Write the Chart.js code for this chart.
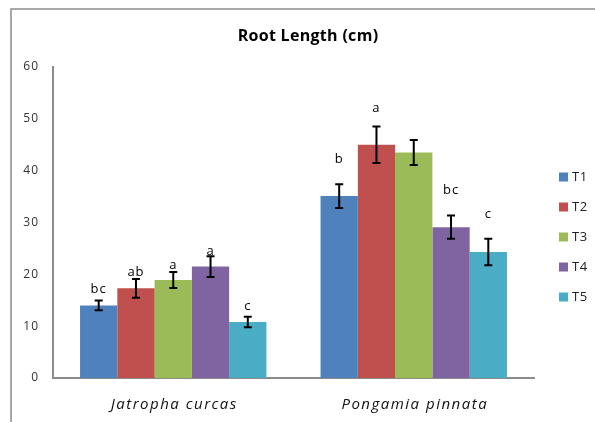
<!DOCTYPE html>
<html>
<head>
<meta charset="utf-8">
<script src="https://cdn.jsdelivr.net/npm/chart.js@4.4.0/dist/chart.umd.min.js"></script>
<style>
  html, body { margin: 0; padding: 0; background: #fff; }
  #wrap { position: relative; width: 595px; height: 422px; }
</style>
</head>
<body>
<div id="wrap"><canvas id="rootChart" width="595" height="422"></canvas></div>
<script>
// categories and series
const categories = ['Jatropha curcas', 'Pongamia pinnata'];
const seriesNames = ['T1', 'T2', 'T3', 'T4', 'T5'];
const seriesColors = ['#4F81BD', '#C0504D', '#9BBB59', '#8064A2', '#4BACC6'];

// mean root length (cm)
const t1 = [14.0, 35.1];
const t2 = [17.3, 45.0];
const t3 = [18.9, 43.5];
const t4 = [21.5, 29.1];
const t5 = [10.8, 24.3];

// error bar half-widths
const t1Err = [0.95, 2.3];
const t2Err = [1.8, 3.5];
const t3Err = [1.55, 2.4];
const t4Err = [2.0, 2.25];
const t5Err = [1.0, 2.55];

// significance letters and the height (cm) they sit at
const t1Letters = ['bc', 'b'];
const t2Letters = ['ab', 'a'];
const t3Letters = ['a', ''];
const t4Letters = ['a', 'bc'];
const t5Letters = ['c', 'c'];
const t1LetterAt = [17.1, 42.1];
const t2LetterAt = [20.4, 52.1];
const t3LetterAt = [21.7, 0];
const t4LetterAt = [24.4, 36.2];
const t5LetterAt = [13.8, 31.5];

const yTicks = [0, 10, 20, 30, 40, 50, 60];

const values = [t1, t2, t3, t4, t5];
const errors = [t1Err, t2Err, t3Err, t4Err, t5Err];
const letters = [t1Letters, t2Letters, t3Letters, t4Letters, t5Letters];
const letterAt = [t1LetterAt, t2LetterAt, t3LetterAt, t4LetterAt, t5LetterAt];

const FONT = '"Open Sans", sans-serif';

// error bars, letters, legend, title, category names, frame
const extras = {
    id: 'extras',
    beforeDraw(chart) {
        // the source text is slightly tracked out
        chart.ctx.letterSpacing = '1px';
    },
    afterDatasetsDraw(chart) {
        const ctx = chart.ctx;
        const y = chart.scales.y;
        ctx.save();
        chart.data.datasets.forEach((ds, i) => {
            const meta = chart.getDatasetMeta(i);
            meta.data.forEach((bar, j) => {
                const v = ds.data[j];
                const e = errors[i][j];
                const top = y.getPixelForValue(v + e);
                const bot = y.getPixelForValue(v - e);
                ctx.strokeStyle = '#000';
                ctx.lineWidth = 2;
                ctx.beginPath();
                ctx.moveTo(bar.x, top); ctx.lineTo(bar.x, bot);
                ctx.moveTo(bar.x - 4, top); ctx.lineTo(bar.x + 4, top);
                ctx.moveTo(bar.x - 4, bot); ctx.lineTo(bar.x + 4, bot);
                ctx.stroke();

                const lt = letters[i][j];
                if (lt) {
                    ctx.fillStyle = '#000';
                    ctx.font = '13px ' + FONT;
                    ctx.letterSpacing = '1px';
                    ctx.textAlign = 'center';
                    ctx.textBaseline = 'middle';
                    ctx.fillText(lt, bar.x, y.getPixelForValue(letterAt[i][j]));
                }
            });
        });
        ctx.restore();
    },
    afterDraw(chart) {
        const ctx = chart.ctx;
        const area = chart.chartArea;
        const x = chart.scales.x;
        ctx.save();
        // outer frame
        ctx.strokeStyle = '#8C8C8C';
        ctx.lineWidth = 1.5;
        ctx.beginPath();
        ctx.moveTo(11, chart.height); ctx.lineTo(11, 9); ctx.lineTo(chart.width, 9);
        ctx.stroke();

        // title
        ctx.fillStyle = '#000';
        ctx.font = 'bold 16px ' + FONT;
        ctx.letterSpacing = '0.3px';
        ctx.textAlign = 'center';
        ctx.textBaseline = 'alphabetic';
        ctx.fillText('Root Length (cm)', 308, 41);

        // category names
        ctx.font = 'italic 15px ' + FONT;
        ctx.letterSpacing = '1.5px';
        ctx.fillStyle = '#111';
        categories.forEach((c, i) => {
            ctx.fillText(c, x.getPixelForTick(i) + 1, 409);
        });

        // legend
        const n = chart.data.datasets.length;
        const gap = 30;
        const midY = 237;
        ctx.font = '13px ' + FONT;
        ctx.letterSpacing = '0.5px';
        ctx.textAlign = 'left';
        ctx.textBaseline = 'middle';
        chart.data.datasets.forEach((ds, i) => {
            const cy = midY + (i - (n - 1) / 2) * gap;
            const bx = area.right + 25;
            ctx.fillStyle = ds.backgroundColor;
            ctx.fillRect(bx, cy - 4.5, 9, 9);
            ctx.fillStyle = '#222';
            ctx.fillText(ds.label, bx + 13, cy);
        });
        ctx.restore();
    }
};

new Chart(document.getElementById('rootChart'), {
    type: 'bar',
    data: {
        labels: categories,
        datasets: seriesNames.map((name, i) => ({
            label: name,
            data: values[i],
            backgroundColor: seriesColors[i],
            borderWidth: 0,
            categoryPercentage: 0.775,
            barPercentage: 1.0
        }))
    },
    options: {
        responsive: false,
        animation: false,
        layout: { padding: { left: 0, right: 61, top: 67, bottom: 0 } },
        plugins: {
            legend: { display: false },
            title: { display: false },
            tooltip: { enabled: false }
        },
        scales: {
            x: {
                grid: { display: false, drawTicks: false },
                border: { color: '#8C8C8C', width: 2 },
                ticks: { display: false },
                afterFit(scale) { scale.height = 44; }
            },
            y: {
                min: 0,
                max: 60,
                afterBuildTicks(scale) { scale.ticks = yTicks.map(v => ({ value: v })); },
                grid: { display: false, drawTicks: false },
                border: { color: '#8C8C8C', width: 2 },
                ticks: {
                    color: '#333',
                    padding: 14,
                    font: { family: FONT, size: 12 }
                },
                afterFit(scale) { scale.width = 53; }
            }
        }
    },
    plugins: [extras]
});
</script>
</body>
</html>
